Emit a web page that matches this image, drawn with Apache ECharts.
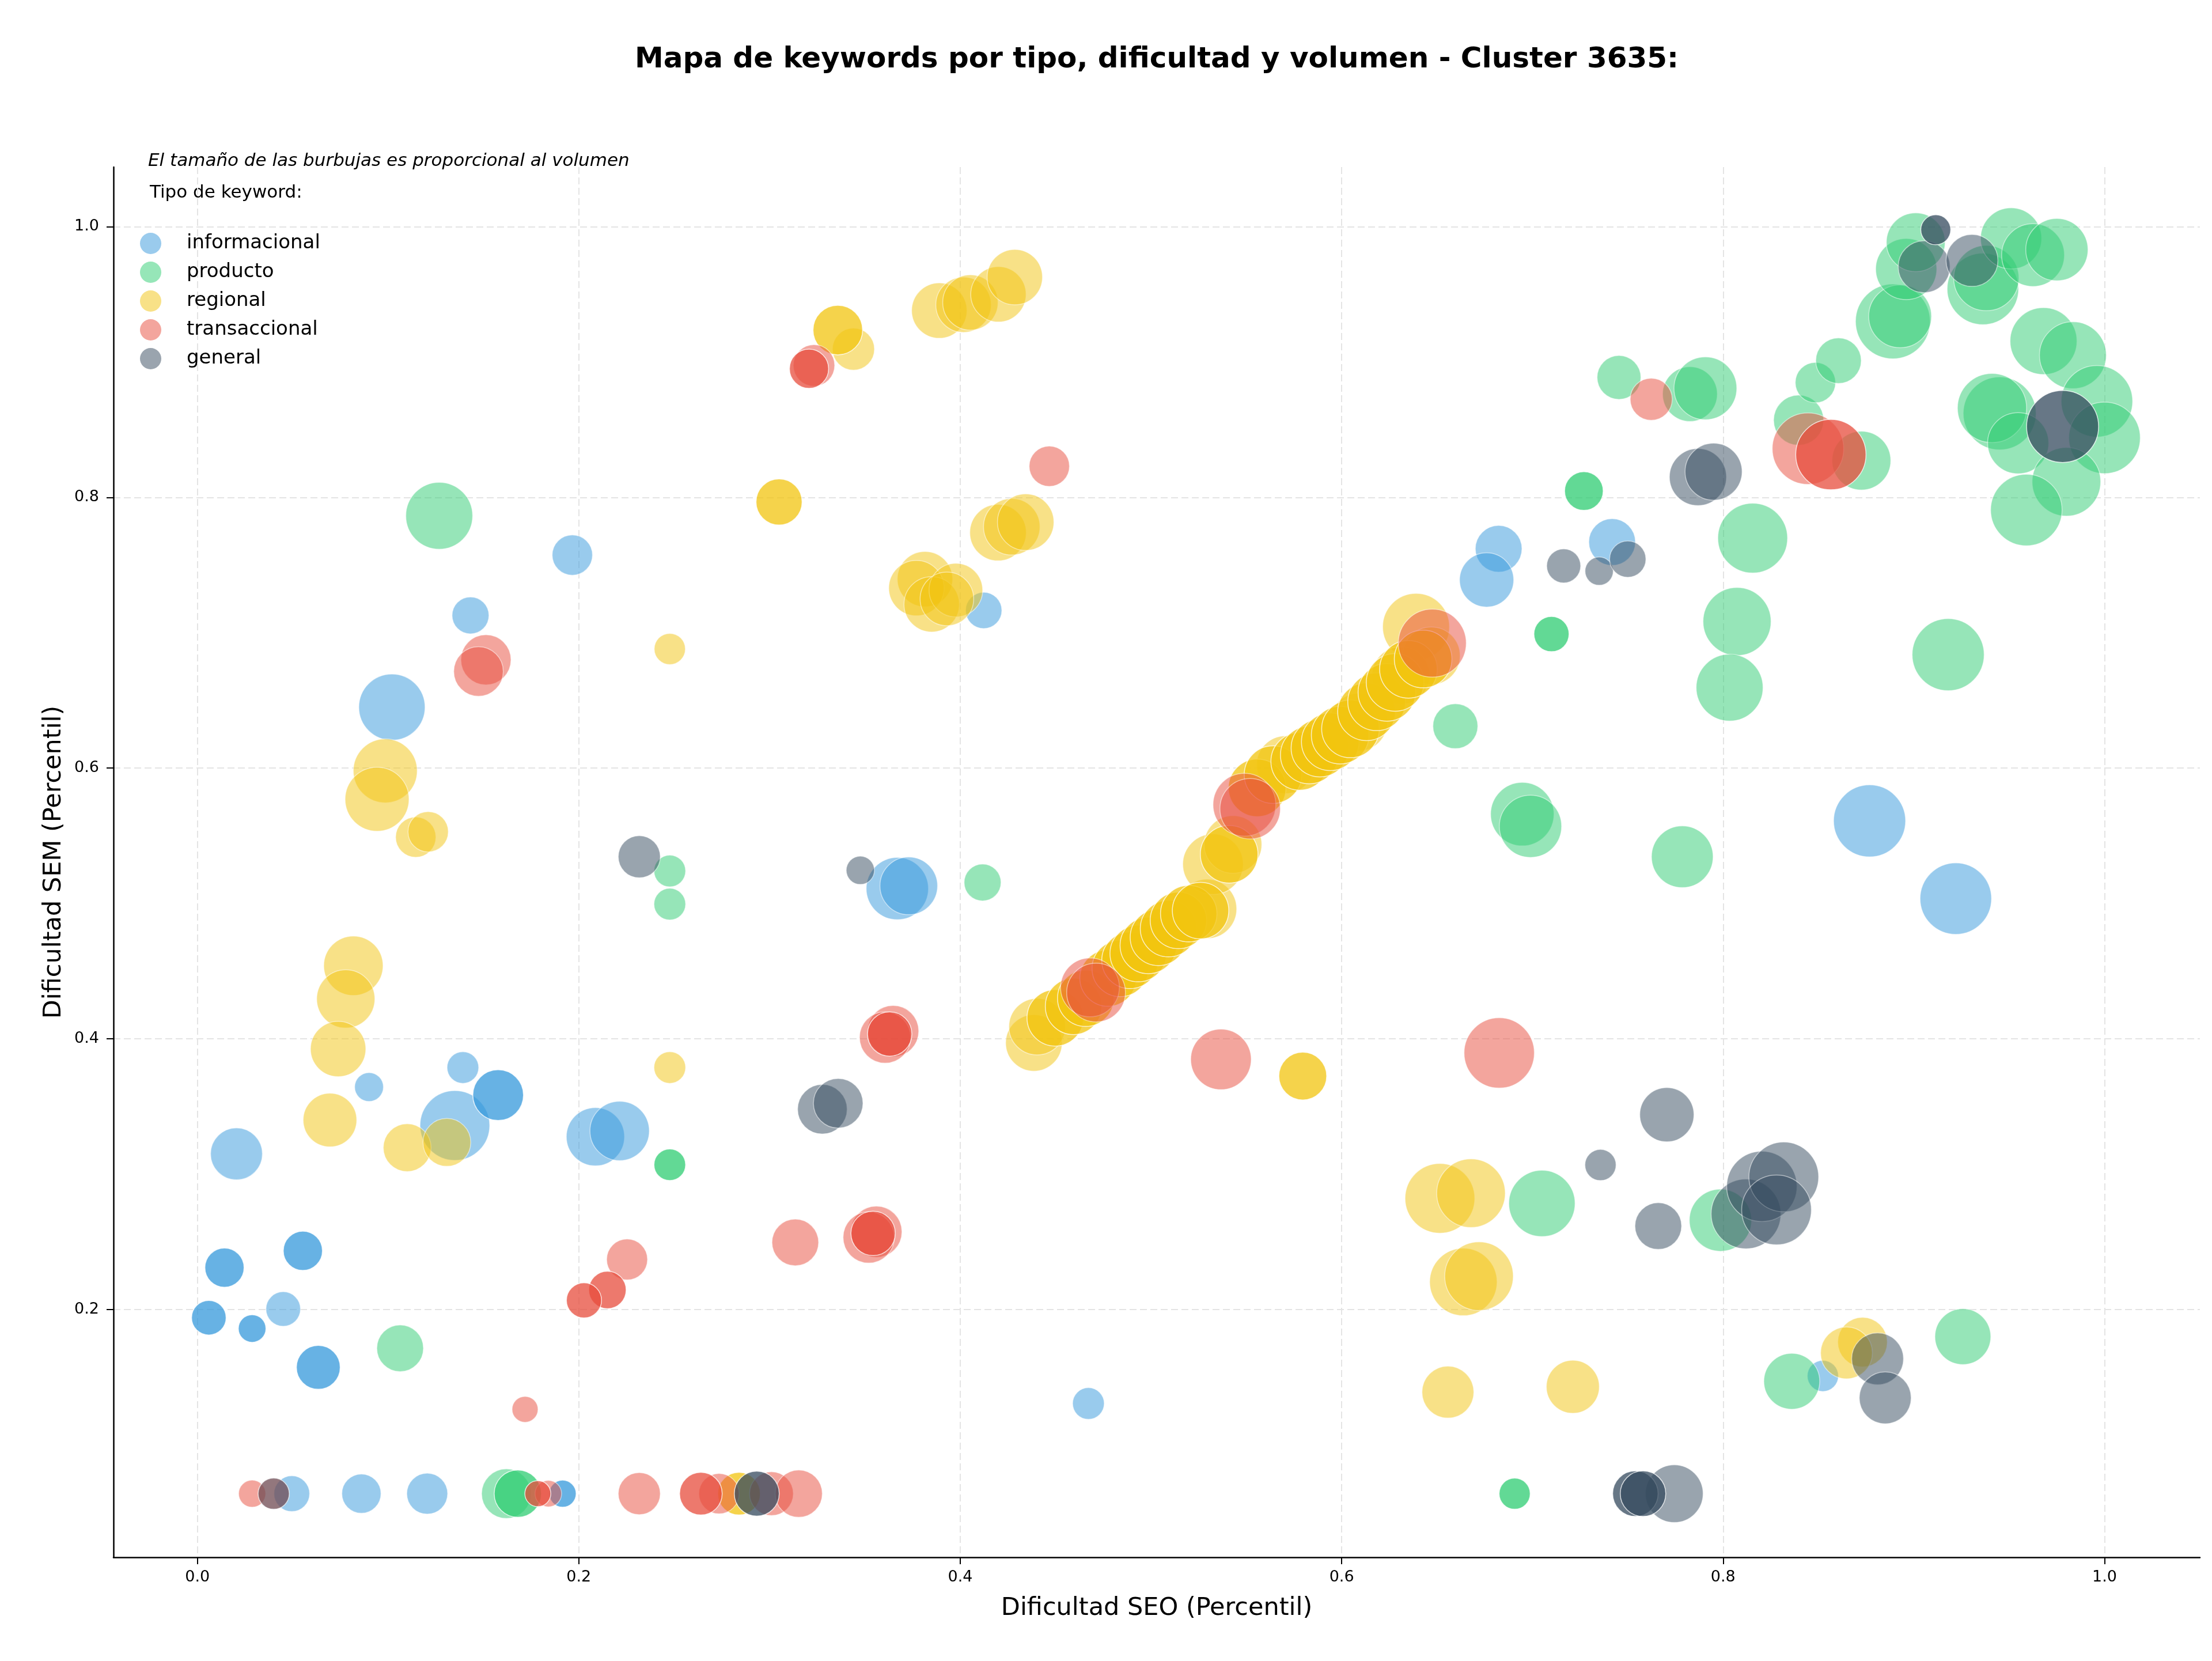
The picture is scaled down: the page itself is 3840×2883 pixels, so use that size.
<!DOCTYPE html>
<html>
<head>
<meta charset="utf-8">
<title>Mapa de keywords - Cluster 3635</title>
<script src="https://cdn.jsdelivr.net/npm/echarts@6/dist/echarts.min.js"></script>
<style>
    html, body { margin: 0; padding: 0; background: #ffffff; }
    #container { width: 3840px; height: 2883px; }
</style>
</head>
<body>
<div id="container"></div>
<script type="text/javascript">
    // cada punto: [dificultad SEO, dificultad SEM, volumen, opaco (1) o translucido (0)]
    var informacional = [
        [0.0495, 0.064, 3840, 0], [0.086, 0.064, 4620, 0], [0.1205, 0.064, 5040, 0], [0.1915, 0.064, 2210, 1],
        [0.1966, 0.7574, 4900, 0], [0.1432, 0.7128, 4100, 0], [0.102, 0.645, 13220, 0], [0.4123, 0.7165, 3970, 0],
        [0.367, 0.511, 11660, 0], [0.373, 0.513, 10000, 0], [0.1392, 0.3788, 3020, 0], [0.090, 0.3644, 2500, 0],
        [0.135, 0.336, 14640, 0], [0.1577, 0.3584, 7740, 1], [0.0205, 0.315, 8100, 0], [0.2087, 0.3277, 10200, 0],
        [0.2214, 0.332, 10610, 0], [0.0142, 0.231, 4620, 1], [0.0553, 0.2434, 4620, 1], [0.045, 0.2004, 3600, 0],
        [0.006, 0.194, 3600, 1], [0.0287, 0.186, 2300, 1], [0.0634, 0.1573, 5780, 1], [0.4672, 0.1306, 3020, 0],
        [0.6823, 0.762, 6560, 0], [0.676, 0.739, 8840, 0], [0.7418, 0.767, 6560, 0], [0.8768, 0.561, 15620, 0],
        [0.922, 0.5036, 15380, 0], [0.8523, 0.151, 2920, 0]
    ];
    var producto = [
        [0.162, 0.064, 7400, 0], [0.168, 0.064, 6720, 1], [0.6907, 0.064, 2920, 1], [0.1268, 0.7864, 13460, 0],
        [0.2477, 0.524, 3020, 0], [0.2477, 0.4995, 3020, 0], [0.2477, 0.307, 3020, 1], [0.1063, 0.1714, 6560, 0],
        [0.4117, 0.5155, 4100, 0], [0.6596, 0.631, 6080, 0], [0.710, 0.699, 3720, 1], [0.7454, 0.8886, 5780, 0],
        [0.7826, 0.8763, 9020, 0], [0.7907, 0.8806, 11880, 0], [0.727, 0.8047, 4490, 1], [0.8155, 0.7699, 14640, 0],
        [0.8396, 0.857, 7570, 0], [0.8725, 0.8272, 10400, 0], [0.8484, 0.8848, 4900, 0], [0.8605, 0.901, 6240, 0],
        [0.889, 0.930, 16800, 0], [0.8928, 0.9338, 11880, 0], [0.896, 0.9687, 11240, 0], [0.901, 0.9885, 10400, 0],
        [0.9362, 0.954, 15380, 0], [0.938, 0.962, 12800, 0], [0.951, 0.9913, 11240, 0], [0.9625, 0.979, 11880, 0],
        [0.975, 0.983, 11660, 0], [0.968, 0.9155, 13460, 0], [0.9834, 0.905, 13460, 0], [0.945, 0.862, 16000, 0],
        [0.941, 0.866, 14400, 0], [0.996, 0.871, 15380, 0], [1.000, 0.844, 15380, 0], [0.9547, 0.84, 11240, 0],
        [0.980, 0.8115, 14160, 0], [0.959, 0.7907, 15380, 0], [0.8073, 0.7083, 13920, 0], [0.8034, 0.6595, 13460, 0],
        [0.918, 0.6838, 15620, 0], [0.7786, 0.5345, 11450, 0], [0.6947, 0.566, 12100, 0], [0.699, 0.557, 11660, 0],
        [0.705, 0.2784, 13220, 0], [0.7986, 0.266, 11660, 0], [0.9257, 0.180, 9410, 0], [0.836, 0.147, 9410, 0]
    ];
    var regional = [
        [0.284, 0.064, 5480, 1], [0.0985, 0.598, 12320, 0], [0.0942, 0.577, 12320, 0], [0.1145, 0.549, 4900, 0],
        [0.121, 0.553, 4900, 0], [0.0818, 0.454, 10610, 0], [0.0778, 0.4295, 10200, 0], [0.0738, 0.3925, 9220, 0],
        [0.0695, 0.340, 8650, 0], [0.110, 0.3196, 6890, 0], [0.1308, 0.3235, 6890, 0], [0.2477, 0.3788, 3020, 0],
        [0.2477, 0.688, 2920, 0], [0.305, 0.7966, 6400, 1], [0.3358, 0.9236, 7400, 1], [0.344, 0.9095, 5330, 0],
        [0.389, 0.938, 9220, 0], [0.4017, 0.9423, 9220, 0], [0.4053, 0.944, 9220, 0], [0.420, 0.950, 9220, 0],
        [0.4286, 0.9627, 9220, 0], [0.4198, 0.774, 9600, 0], [0.427, 0.7783, 9600, 0], [0.4343, 0.7817, 9600, 0],
        [0.3815, 0.7396, 9220, 0], [0.377, 0.733, 9220, 0], [0.385, 0.721, 9220, 0], [0.3977, 0.7315, 8650, 0],
        [0.393, 0.725, 8650, 0], [0.639, 0.7044, 13460, 0], [0.5796, 0.3725, 6890, 1], [0.6515, 0.2822, 14640, 0],
        [0.6678, 0.286, 14160, 0], [0.6638, 0.2204, 13690, 0], [0.672, 0.2247, 14160, 0], [0.8731, 0.176, 7400, 0],
        [0.8647, 0.168, 8100, 0], [0.6557, 0.139, 8100, 0], [0.7212, 0.143, 8460, 0],
        [0.4386, 0.397, 9600, 0], [0.4403, 0.409, 9600, 0], [0.4498, 0.4155, 9600, 1], [0.4594, 0.424, 9600, 1],
        [0.4658, 0.430, 9600, 1], [0.4775, 0.4449, 9600, 1], [0.4839, 0.452, 9600, 1], [0.489, 0.458, 9600, 1],
        [0.4933, 0.463, 9600, 1], [0.4986, 0.469, 9600, 1], [0.5039, 0.475, 9600, 1], [0.5092, 0.4814, 9600, 1],
        [0.5144, 0.4875, 9600, 1], [0.5198, 0.4925, 9600, 1], [0.526, 0.4947, 9600, 1], [0.5294, 0.496, 10600, 0],
        [0.5325, 0.529, 11000, 0], [0.541, 0.5364, 10000, 1], [0.543, 0.5436, 10000, 0], [0.5557, 0.5854, 10000, 1],
        [0.564, 0.5952, 10000, 1], [0.5705, 0.6025, 10000, 0], [0.578, 0.605, 10000, 1], [0.583, 0.6097, 10000, 1],
        [0.5886, 0.6148, 10000, 1], [0.594, 0.6195, 10000, 1], [0.5992, 0.6244, 10000, 1], [0.6046, 0.629, 10000, 1],
        [0.6089, 0.634, 10000, 0], [0.613, 0.6416, 10000, 1], [0.6183, 0.649, 10000, 1], [0.6237, 0.656, 10000, 1],
        [0.628, 0.6633, 10000, 1], [0.631, 0.6684, 10000, 0], [0.635, 0.673, 10000, 1], [0.6427, 0.6806, 10000, 1],
        [0.647, 0.683, 10000, 0]
    ];
    var transaccional = [
        [0.0287, 0.064, 2210, 0], [0.040, 0.064, 2920, 0], [0.1785, 0.064, 2030, 1], [0.184, 0.064, 2120, 0],
        [0.2317, 0.064, 5330, 0], [0.264, 0.064, 5480, 1], [0.2735, 0.064, 4900, 0], [0.301, 0.064, 5780, 0],
        [0.3153, 0.064, 6720, 0], [0.3207, 0.895, 4620, 1], [0.3233, 0.8975, 5180, 0], [0.4467, 0.823, 4900, 0],
        [0.1513, 0.680, 7570, 0], [0.1474, 0.6714, 7400, 0], [0.3648, 0.4057, 7920, 0], [0.363, 0.4036, 5930, 1],
        [0.3606, 0.401, 7920, 0], [0.2253, 0.237, 5040, 0], [0.215, 0.2145, 4220, 1], [0.2027, 0.2068, 3720, 1],
        [0.1718, 0.1263, 2030, 0], [0.3135, 0.2496, 6560, 0], [0.356, 0.2575, 7920, 0], [0.3543, 0.2563, 5930, 1],
        [0.352, 0.2533, 7920, 0], [0.5367, 0.3848, 11030, 0], [0.6826, 0.3896, 14880, 0], [0.6475, 0.6923, 13920, 0],
        [0.468, 0.438, 10400, 0], [0.4712, 0.4342, 10400, 0], [0.549, 0.573, 11880, 0], [0.552, 0.570, 11000, 0],
        [0.7623, 0.8725, 5330, 0], [0.8445, 0.836, 15380, 0], [0.8565, 0.8316, 14880, 1]
    ];
    var general = [
        [0.040, 0.064, 2920, 0], [0.2933, 0.064, 6080, 1], [0.754, 0.064, 6240, 1], [0.758, 0.064, 6240, 1],
        [0.7744, 0.064, 10000, 0], [0.2317, 0.5345, 5330, 0], [0.3476, 0.5245, 2400, 0], [0.3277, 0.348, 7400, 0],
        [0.336, 0.3524, 7400, 0], [0.7164, 0.7494, 3480, 0], [0.735, 0.7455, 2400, 0], [0.750, 0.7544, 3970, 0],
        [0.7868, 0.815, 9800, 0], [0.795, 0.819, 9800, 0], [0.9054, 0.9704, 8100, 0], [0.9115, 0.9977, 2700, 1],
        [0.9305, 0.975, 8100, 0], [0.978, 0.8524, 15620, 1], [0.7705, 0.344, 8840, 0], [0.7357, 0.3068, 2920, 0],
        [0.766, 0.2617, 6560, 0], [0.812, 0.2707, 14640, 0], [0.8203, 0.291, 14880, 0], [0.8318, 0.298, 14640, 0],
        [0.828, 0.2736, 14640, 0], [0.881, 0.1636, 8100, 0], [0.885, 0.1348, 8100, 0]
    ];

    var tipos = ['informacional', 'producto', 'regional', 'transaccional', 'general'];
    var colores = ['#3498db', '#2ecc71', '#f1c40f', '#e74c3c', '#34495e'];
    var coloresLeyenda = ['#9acbed', '#96e6b8', '#f8e187', '#f3a59d', '#9aa4ae'];
    var ticksX = [0, 0.2, 0.4, 0.6, 0.8, 1.0];
    var ticksY = [0.2, 0.4, 0.6, 0.8, 1.0];

    var fuente = 'DejaVu Sans';
    var datos = [informacional, producto, regional, transaccional, general];

    var series = [];
    tipos.forEach(function (tipo, i) {
        [0, 1].forEach(function (opaco) {
            series.push({
                name: tipo,
                type: 'scatter',
                data: datos[i].filter(function (p) { return p[3] === opaco; }),
                symbolSize: function (v) { return Math.sqrt(v[2]); },
                itemStyle: {
                    color: colores[i],
                    opacity: opaco ? 0.75 : 0.5,
                    borderColor: '#ffffff',
                    borderWidth: 1.5
                },
                emphasis: { disabled: true }
            });
        });
    });

    var estiloLeyenda = { fontFamily: fuente, fontSize: 34, color: '#000', lineHeight: 37, padding: [0, 0, 0, 39] };

    var dom = document.getElementById('container');
    var myChart = echarts.init(dom);

    var option = {
        animation: false,
        backgroundColor: '#ffffff',
        grid: { left: 197, right: 21, top: 290, bottom: 180 },
        graphic: [
            {
                type: 'text', x: 2008, y: 104,
                style: {
                    text: 'Mapa de keywords por tipo, dificultad y volumen - Cluster 3635:',
                    fill: '#000', fontFamily: fuente, fontSize: 50, fontWeight: 'bold',
                    align: 'center', verticalAlign: 'middle', textAlign: 'center', textVerticalAlign: 'middle'
                }
            },
            {
                type: 'text', x: 257, y: 280,
                style: {
                    text: 'El tamaño de las burbujas es proporcional al volumen',
                    fill: '#000', fontFamily: fuente, fontSize: 31, fontStyle: 'italic',
                    align: 'left', verticalAlign: 'middle', textAlign: 'left', textVerticalAlign: 'middle'
                }
            },
            {
                type: 'text', x: 260, y: 335,
                style: {
                    text: 'Tipo de keyword:',
                    fill: '#000', fontFamily: fuente, fontSize: 31,
                    align: 'left', verticalAlign: 'middle', textAlign: 'left', textVerticalAlign: 'middle'
                }
            }
        ],
        legend: {
            orient: 'vertical',
            left: 238,
            top: 399,
            padding: 5,
            icon: 'circle',
            itemWidth: 37,
            itemHeight: 37,
            itemGap: 13,
            textStyle: estiloLeyenda,
            data: tipos.map(function (t, i) {
                return {
                    name: t,
                    itemStyle: { color: coloresLeyenda[i], opacity: 1, borderWidth: 0 },
                    textStyle: estiloLeyenda
                };
            })
        },
        xAxis: {
            type: 'value',
            min: -0.044,
            max: 1.05,
            name: 'Dificultad SEO (Percentil)',
            nameLocation: 'middle',
            nameGap: 67,
            nameTextStyle: { fontFamily: fuente, fontSize: 43, color: '#000' },
            axisLine: { show: true, onZero: false, lineStyle: { color: '#000', width: 2.5 } },
            axisTick: { show: true, length: 12, customValues: ticksX, lineStyle: { color: '#000', width: 2 } },
            axisLabel: {
                customValues: ticksX, margin: 21, fontFamily: fuente, fontSize: 27, color: '#000',
                formatter: function (v) { return v.toFixed(1); }
            },
            splitLine: { show: true, lineStyle: { color: '#e4e4e4', width: 2, type: [12, 6] } }
        },
        yAxis: {
            type: 'value',
            min: 0.017,
            max: 1.044,
            name: 'Dificultad SEM (Percentil)',
            nameLocation: 'middle',
            nameGap: 82,
            nameTextStyle: { fontFamily: fuente, fontSize: 43, color: '#000' },
            axisLine: { show: true, onZero: false, lineStyle: { color: '#000', width: 2.5 } },
            axisTick: { show: true, length: 12, customValues: ticksY, lineStyle: { color: '#000', width: 2 } },
            axisLabel: {
                customValues: ticksY, margin: 25, fontFamily: fuente, fontSize: 27, color: '#000',
                formatter: function (v) { return v.toFixed(1); }
            },
            splitLine: { show: true, lineStyle: { color: '#e4e4e4', width: 2, type: [12, 6] } }
        },
        series: series
    };

    if (option && typeof option === 'object') {
        myChart.setOption(option);
    }
</script>
</body>
</html>
